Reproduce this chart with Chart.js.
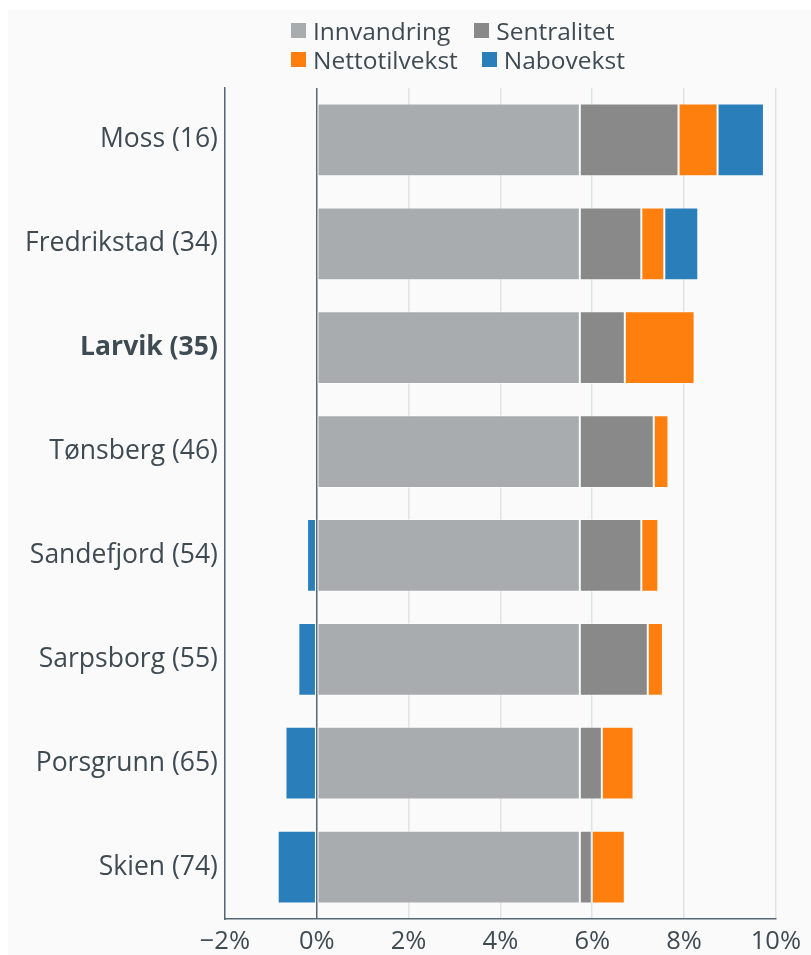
<!DOCTYPE html>
<html>
<head>
<meta charset="utf-8">
<script src="https://cdn.jsdelivr.net/npm/chart.js@4.4.0/dist/chart.umd.min.js"></script>
<style>
  body { margin: 0; background: #ffffff; font-family: "Open Sans", sans-serif; }
  #wrap { position: absolute; left: 8px; top: 10px; width: 803px; height: 945px; background: #fafafa; }
  #legend { position: absolute; left: 283px; top: 6px; color: #3f4b53; font-size: 24.5px; line-height: 29px; }
  .row { display: flex; }
  .item { display: flex; align-items: center; margin-right: 24px; }
  .box { width: 15px; height: 15px; margin-right: 7px; }
</style>
</head>
<body>
<div id="wrap">
  <canvas id="chart" width="803" height="945"></canvas>
  <div id="legend"></div>
</div>
<script>
// kommuner (rank), top to bottom
const categories = ['Moss (16)', 'Fredrikstad (34)', 'Larvik (35)', 'Tønsberg (46)',
                    'Sandefjord (54)', 'Sarpsborg (55)', 'Porsgrunn (65)', 'Skien (74)'];
const innvandring   = [5.73, 5.73, 5.73, 5.73, 5.73, 5.73, 5.73, 5.73];
const sentralitet   = [2.15, 1.34, 0.98, 1.61, 1.34, 1.48, 0.48, 0.26];
const nettotilvekst = [0.85, 0.50, 1.52, 0.32, 0.37, 0.33, 0.69, 0.72];
const nabovekst     = [1.01, 0.74, 0.04, 0.00, -0.21, -0.40, -0.68, -0.85];
const xTicks = [-2, 0, 2, 4, 6, 8, 10];

const textColor = '#3f4b53';
const axisColor = '#566874';
const gridColor = '#dde3e8';

const series = [
    { label: 'Innvandring', data: innvandring, color: '#a8acaf' },
    { label: 'Sentralitet', data: sentralitet, color: '#898989' },
    { label: 'Nettotilvekst', data: nettotilvekst, color: '#ff7f0e' },
    { label: 'Nabovekst', data: nabovekst, color: '#2a7fba' }
];

// legend in two rows like the original
const legend = document.getElementById('legend');
[[0, 1], [2, 3]].forEach(function(idx) {
    const row = document.createElement('div');
    row.className = 'row';
    idx.forEach(function(i) {
        const item = document.createElement('div');
        item.className = 'item';
        item.innerHTML = '<span class="box" style="background:' + series[i].color + '"></span>' + series[i].label;
        row.appendChild(item);
    });
    legend.appendChild(row);
});

const ctx = document.getElementById('chart').getContext('2d');
new Chart(ctx, {
    type: 'bar',
    data: {
        labels: categories,
        datasets: series.map(function(s) {
            return {
                label: s.label,
                data: s.data,
                backgroundColor: s.color,
                borderColor: 'rgba(255,255,255,0.45)',
                borderWidth: 1,
                borderSkipped: false,
                barPercentage: 0.7,
                categoryPercentage: 1
            };
        })
    },
    options: {
        indexAxis: 'y',
        responsive: false,
        animation: false,
        layout: { padding: { top: 78, right: 10, left: 10, bottom: 0 } },
        plugins: {
            legend: { display: false },
            tooltip: { enabled: false }
        },
        scales: {
            x: {
                stacked: true,
                min: -2,
                max: 10,
                afterBuildTicks: function(axis) {
                    axis.ticks = xTicks.map(function(v) { return { value: v }; });
                },
                afterFit: function(axis) { axis.height = 36; },
                grid: {
                    drawTicks: false,
                    color: function(c) { return c.tick && c.tick.value === 0 ? axisColor : gridColor; },
                    lineWidth: 1.5
                },
                border: { display: true, color: axisColor, width: 1.5 },
                ticks: {
                    padding: 10,
                    color: textColor,
                    font: { family: 'Open Sans', size: 25.5, lineHeight: 1 },
                    callback: function(v) { return (v < 0 ? '\u2212' + Math.abs(v) : v) + '%'; }
                }
            },
            y: {
                stacked: true,
                grid: { display: false, drawTicks: false },
                border: { display: true, color: axisColor, width: 1.5 },
                ticks: {
                    padding: 7,
                    color: textColor,
                    font: function(c) {
                        return { family: 'Open Sans', size: 26.5, weight: c.index === 2 ? 'bold' : 'normal' };
                    }
                }
            }
        }
    }
});
</script>
</body>
</html>
